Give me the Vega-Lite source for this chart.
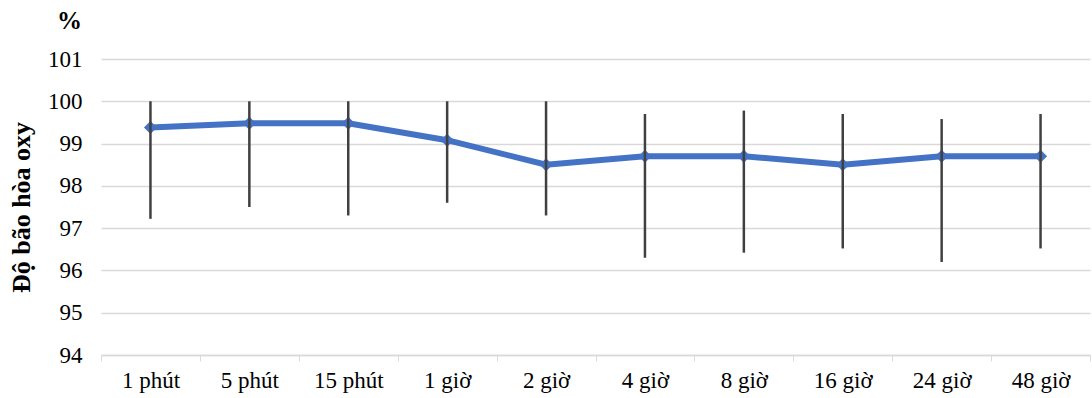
{
  "$schema": "https://vega.github.io/schema/vega-lite/v6.json",
  "autosize": "none",
  "width": 989,
  "height": 296,
  "padding": {"left": 101, "top": 59, "right": 2, "bottom": 43},
  "background": "white",
  "title": {"text": "%", "anchor": "start", "frame": "group", "dx": -44, "offset": 14, "font": "Liberation Serif", "fontSize": 25, "fontWeight": "bold", "color": "#000000"},
  "config": {"view": {"stroke": null}, "font": "Liberation Serif"},
  "data": {"values": [
    {"t": "1 phút", "v": 99.38, "lo": 97.22, "hi": 100.0},
    {"t": "5 phút", "v": 99.48, "lo": 97.5, "hi": 100.0},
    {"t": "15 phút", "v": 99.48, "lo": 97.3, "hi": 100.0},
    {"t": "1 giờ", "v": 99.08, "lo": 97.6, "hi": 100.0},
    {"t": "2 giờ", "v": 98.5, "lo": 97.3, "hi": 100.0},
    {"t": "4 giờ", "v": 98.7, "lo": 96.3, "hi": 99.7},
    {"t": "8 giờ", "v": 98.7, "lo": 96.42, "hi": 99.78},
    {"t": "16 giờ", "v": 98.5, "lo": 96.52, "hi": 99.7},
    {"t": "24 giờ", "v": 98.7, "lo": 96.2, "hi": 99.58},
    {"t": "48 giờ", "v": 98.7, "lo": 96.52, "hi": 99.7}
  ]},
  "encoding": {
    "x": {"field": "t", "type": "nominal", "sort": null,
      "scale": {"paddingInner": 0, "paddingOuter": 0},
      "axis": {"title": null, "labelAngle": 0, "labelFont": "Liberation Serif", "labelFontSize": 23, "labelColor": "#000000", "labelPadding": 8, "tickBand": "extent", "tickSize": 6, "tickColor": "#d9d9d9", "domainColor": "#d9d9d9", "domainWidth": 1.5, "grid": false}}
  },
  "layer": [
    {"mark": {"type": "line", "color": "#4472C4", "strokeWidth": 6},
     "encoding": {"y": {"field": "v", "type": "quantitative",
        "scale": {"domain": [94, 101], "nice": false, "zero": false},
        "axis": {"title": "Độ bão hòa oxy", "titleFont": "Liberation Serif", "titleFontSize": 26, "titleFontWeight": "bold", "titleColor": "#000000", "titlePadding": 13, "values": [94,95,96,97,98,99,100,101], "labelFont": "Liberation Serif", "labelFontSize": 23, "labelColor": "#000000", "labelPadding": 19, "ticks": false, "domain": false, "grid": true, "gridColor": "#d9d9d9", "gridWidth": 1.5}}}},
    {"mark": {"type": "point", "shape": "diamond", "filled": true, "color": "#4472C4", "size": 170, "opacity": 1},
     "encoding": {"y": {"field": "v", "type": "quantitative"}}},
    {"mark": {"type": "rule", "color": "#404040", "strokeWidth": 2.5},
     "encoding": {"y": {"field": "lo", "type": "quantitative"}, "y2": {"field": "hi"}}}
  ]
}
